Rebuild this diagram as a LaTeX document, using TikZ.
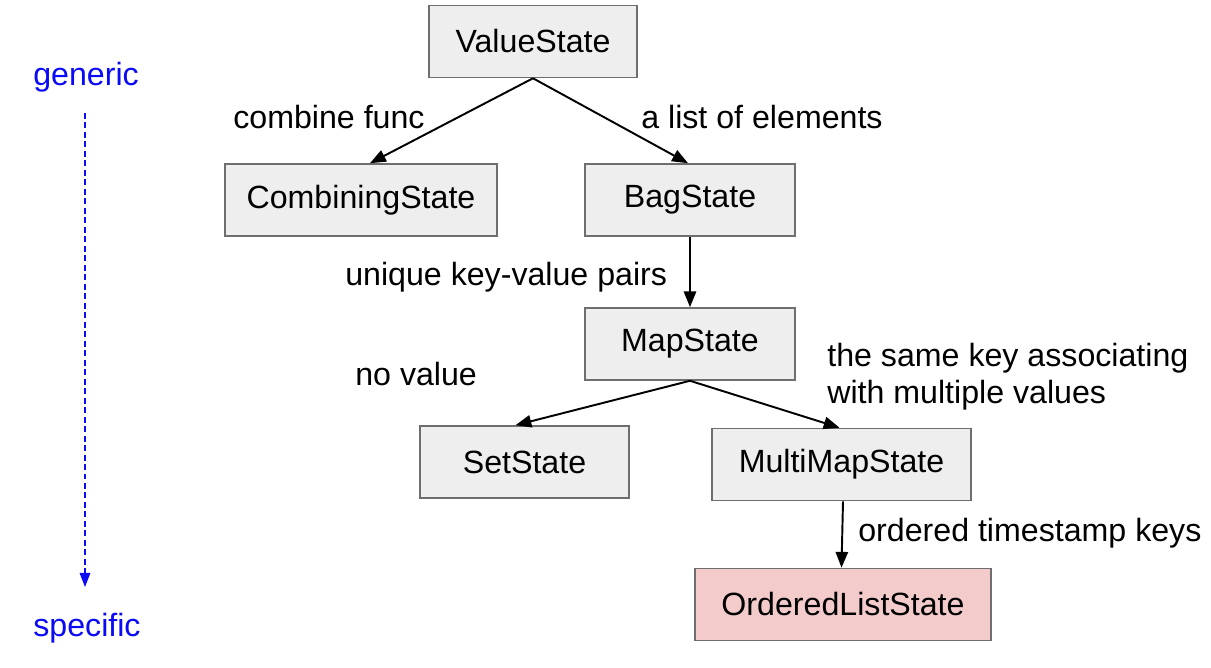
\documentclass[tikz,border=0pt]{standalone}
\usepackage{fontspec}
\setmainfont{Liberation Sans}
\usepackage{tikz}
\usetikzlibrary{arrows.meta, positioning}
\definecolor{boxgray}{RGB}{238,238,238}
\definecolor{edgegray}{RGB}{110,110,110}
\definecolor{leafpink}{RGB}{243,203,203}
\definecolor{axisblue}{RGB}{10,10,245}

\begin{document}
\begin{tikzpicture}[
    x=0.02cm, y=-0.02cm,
    state/.style={
        rectangle, draw=edgegray, line width=0.9pt,
        fill=boxgray,
        minimum height=1.44cm,
        text centered, font=\fontsize{18.3}{22}\selectfont
    },
    note/.style={anchor=base west, inner sep=0pt, align=left,
        font=\fontsize{18.3}{21.6}\selectfont},
    arr/.style={-{Triangle[length=9pt, width=7pt]}, line width=1.1pt},
]
\useasboundingbox[fill=white] (0,0) rectangle (1211,668);

% States
\node[state, minimum width=4.16cm] (value) at (533,41.5) {ValueState};
\node[state, minimum width=5.44cm] (combining) at (361,200) {CombiningState};
\node[state, minimum width=4.2cm] (bag) at (690,200) {BagState};
\node[state, minimum width=4.2cm] (map) at (690,344) {MapState};
\node[state, minimum width=4.18cm] (set) at (524.5,462) {SetState};
\node[state, minimum width=5.18cm] (multimap) at (841.5,464.5) {MultiMapState};
\node[state, minimum width=5.92cm, fill=leafpink] (orderedlist) at (843,604.5) {OrderedListState};

% Edges
\draw[arr] (value.south) -- ([xshift=0.18cm]combining.north);
\draw[arr] (value.south) -- ([xshift=-0.04cm]bag.north);
\draw[arr] (bag.south) -- (map.north);
\draw[arr] (map.south) -- ([xshift=-0.18cm]set.north);
\draw[arr] (map.south) -- ([xshift=-0.04cm]multimap.north);
\draw[arr] ([xshift=0.03cm]multimap.south) -- (multimap.south |- orderedlist.north);

% Edge notes
\node[note] (combinefunc) at (233,129) {combine func};
\node[note] (listofelems) at (641,129) {a list of elements};
\node[note] (uniquepairs) at (345,286) {unique key-value pairs};
\node[note] (novalue) at (355,386) {no value};
\node[note] (samekey) at (827,404) {the same key associating\\with multiple values};
\node[note] (timestamp) at (858,542) {ordered timestamp keys};

% Generic -> specific axis
\node[note, text=axisblue] (generic) at (33,86) {generic};
\node[note, text=axisblue] (specific) at (33,637) {specific};
\coordinate (axistop) at (85,113);
\coordinate (axisbot) at (85,587);
\draw[axisblue, line width=0.8pt, dash pattern=on 3.4pt off 2pt,
      -{Triangle[length=8pt, width=6pt]}] (axistop) -- (axisbot);

\end{tikzpicture}
\end{document}
